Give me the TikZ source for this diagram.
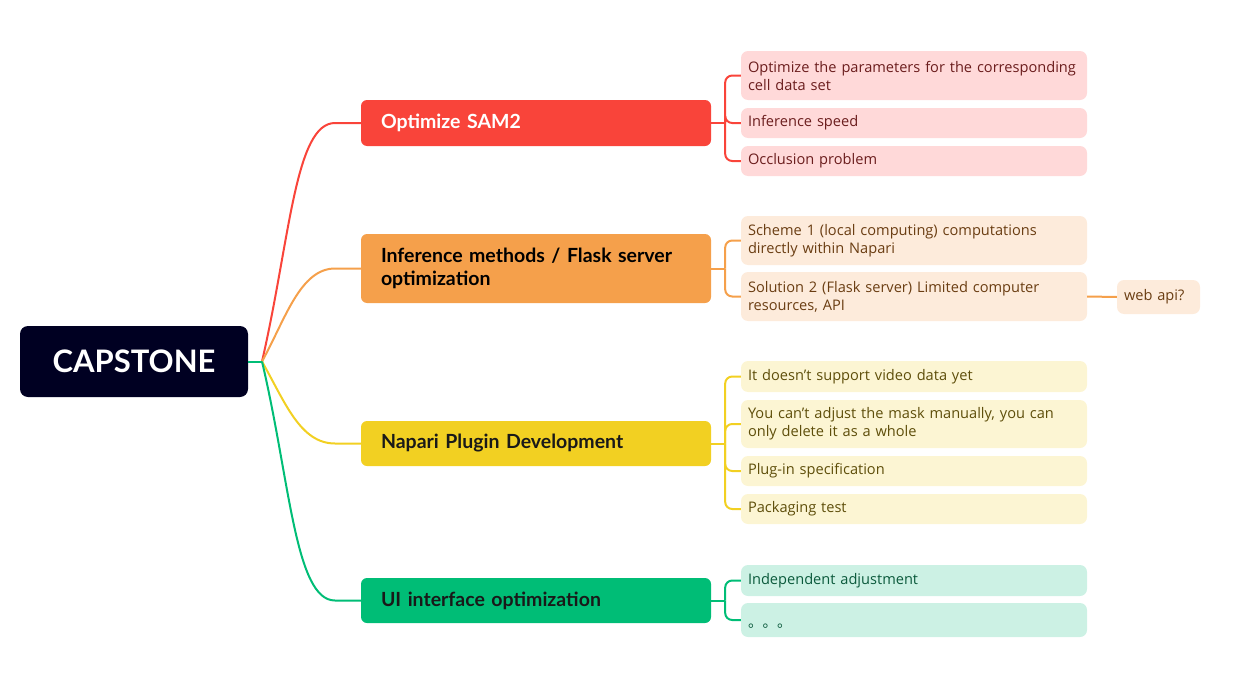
\documentclass[tikz,border=0pt]{standalone}
\usepackage{fontspec}
\setmainfont{Lato}
\newfontfamily\leaffont{Open Sans}
\newfontfamily\cjk{Noto Sans CJK SC}
\definecolor{rootc}{HTML}{000022}
\definecolor{redc}{HTML}{F9443A}
\definecolor{orac}{HTML}{F5A04B}
\definecolor{yelc}{HTML}{F2D022}
\definecolor{grnc}{HTML}{00BD76}
\definecolor{redl}{HTML}{FFD9D9}
\definecolor{oral}{HTML}{FDEBDB}
\definecolor{yell}{HTML}{FCF5D3}
\definecolor{grnl}{HTML}{CCF1E4}
\definecolor{redt}{HTML}{6B1D1D}
\definecolor{orat}{HTML}{6A3D12}
\definecolor{yelt}{HTML}{5E4E0A}
\definecolor{grnt}{HTML}{0B5A3C}
\begin{document}
\begin{tikzpicture}[x=1pt,y=-1pt,
  rootbox/.style={fill=rootc,rounded corners=8pt,minimum width=228pt,minimum height=71pt,text=white,font=\bfseries\fontsize{31}{36}\selectfont,inner sep=0pt},
  branch/.style={rounded corners=6pt,text width=310pt,inner xsep=20pt,inner ysep=0pt,align=left,font=\bfseries\fontsize{19.5}{23}\selectfont},
  leaf/.style={rounded corners=7pt,text width=332pt,inner xsep=7pt,inner ysep=0pt,align=left,font=\leaffont\fontsize{14.6}{18}\selectfont},
  conn/.style={line width=2pt},
  bracket/.style={line width=2pt,rounded corners=7pt}]
\useasboundingbox (0,0) rectangle (1254,688);
% root
\node[rootbox] (root) at (134,361.5) {CAPSTONE};
\coordinate (hub) at (262,361.5);
% branches
\node[branch,fill=redc,text=white,minimum height=46pt] (b1) at (536,123) {Optimize SAM2};
\node[branch,fill=orac,text=black,minimum height=69pt] (b2) at (536,268.5) {Inference methods / Flask server\\optimization};
\node[branch,fill=yelc,text=black!90,minimum height=45pt] (b3) at (536,443.5) {Napari Plugin Development};
\node[branch,fill=grnc,text=black!90,minimum height=45pt] (b4) at (536,600.5) {UI interface optimization};
% root connectors
\draw[conn,redc] (hub) .. controls (290,240) and (295,123) .. (335,123) -- (b1.west);
\draw[conn,orac] (hub) .. controls (285,320) and (300,268.5) .. (335,268.5) -- (b2.west);
\draw[conn,yelc] (hub) .. controls (285,402) and (300,443.5) .. (335,443.5) -- (b3.west);
\draw[conn,grnc] (hub) .. controls (290,480) and (295,600.5) .. (335,600.5) -- (b4.west);
\draw[conn,grnc] (root.east) -- (hub);
% red leaves
\node[leaf,fill=redl,text=redt,minimum height=49pt] (r1) at (914,75.5) {Optimize the parameters for the corresponding\\cell data set};
\node[leaf,fill=redl,text=redt,minimum height=30pt] (r2) at (914,123) {Inference speed};
\node[leaf,fill=redl,text=redt,minimum height=30pt] (r3) at (914,161) {Occlusion problem};
% orange leaves
\node[leaf,fill=oral,text=orat,minimum height=49pt] (o1) at (914,240.5) {Scheme 1 (local computing) computations\\directly within Napari};
\node[leaf,fill=oral,text=orat,minimum height=49pt] (o2) at (914,296.5) {Solution 2 (Flask server) Limited computer\\resources, API};
\node[fill=oral,text=orat,rounded corners=7pt,text width=69pt,minimum height=34pt,inner xsep=7pt,inner ysep=0pt,align=left,font=\leaffont\fontsize{14.6}{18}\selectfont] (w1) at (1158.5,297) {web api?};
% yellow leaves
\node[leaf,fill=yell,text=yelt,minimum height=31pt] (y1) at (914,376.5) {It doesn’t support video data yet};
\node[leaf,fill=yell,text=yelt,minimum height=48pt] (y2) at (914,424) {You can’t adjust the mask manually, you can\\only delete it as a whole};
\node[leaf,fill=yell,text=yelt,minimum height=30pt] (y3) at (914,471) {Plug-in specification};
\node[leaf,fill=yell,text=yelt,minimum height=30pt] (y4) at (914,509) {Packaging test};
% green leaves
\node[leaf,fill=grnl,text=grnt,minimum height=31pt] (g1) at (914,580.5) {Independent adjustment};
\node[leaf,fill=grnl,text=grnt,minimum height=34pt] (g2) at (914,620) {\raisebox{-7pt}[0pt][0pt]{\cjk 。。。}};
% brackets
\draw[conn,redc] (b1.east) -- ++(14,0) coordinate (h1);
\draw[conn,orac] (b2.east) -- ++(14,0) coordinate (h2);
\draw[conn,yelc] (b3.east) -- ++(14,0) coordinate (h3);
\draw[conn,grnc] (b4.east) -- ++(14,0) coordinate (h4);
\foreach \l in {r1,r2,r3} \draw[bracket,redc] (h1) |- (\l.west);
\foreach \l in {o1,o2} \draw[bracket,orac] (h2) |- (\l.west);
\foreach \l in {y1,y2,y3,y4} \draw[bracket,yelc] (h3) |- (\l.west);
\foreach \l in {g1,g2} \draw[bracket,grnc] (h4) |- (\l.west);
\draw[conn,orac] (o2.east) -- (w1.west);
\end{tikzpicture}
\end{document}
